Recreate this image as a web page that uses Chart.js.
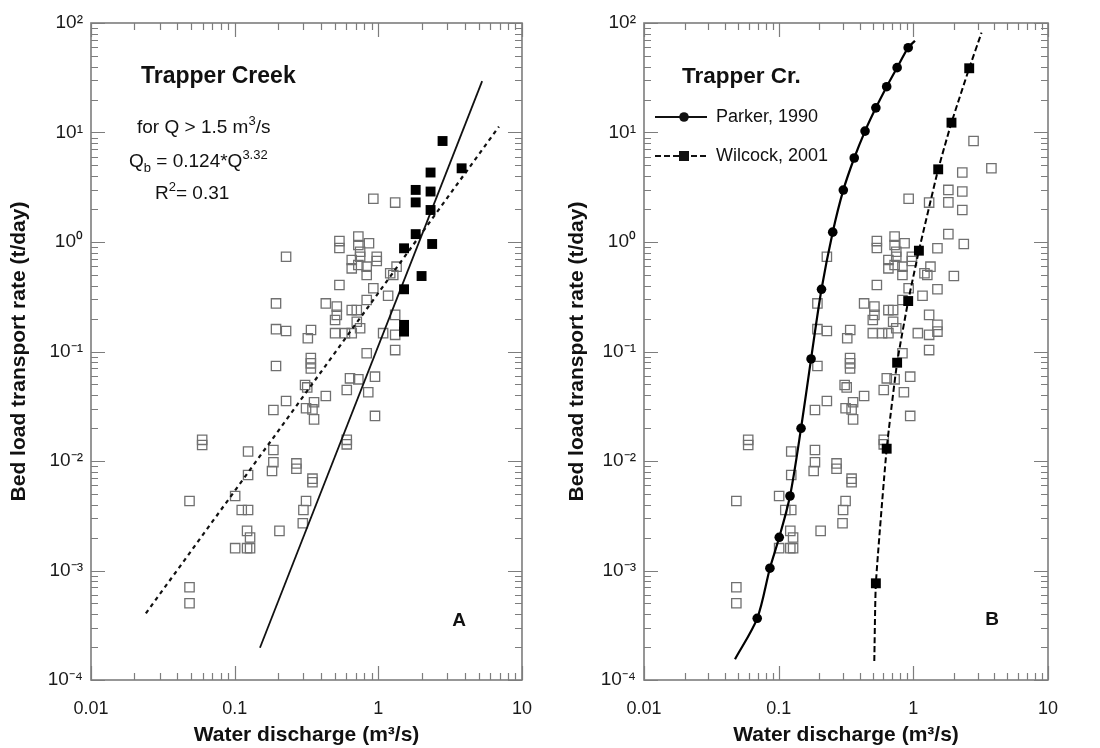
<!DOCTYPE html>
<html>
<head>
<meta charset="utf-8">
<script src="https://cdn.jsdelivr.net/npm/chart.js@4.4.1/dist/chart.umd.min.js"></script>
<style>
  html, body { margin: 0; padding: 0; background: #ffffff; }
  #wrap { position: relative; width: 1100px; height: 748px; }
  canvas { position: absolute; top: 0; }
  #cA { left: 0; }
  #cB { left: 550px; }
</style>
</head>
<body>
<div id="wrap">
  <canvas id="cA" width="550" height="748"></canvas>
  <canvas id="cB" width="550" height="748"></canvas>
</div>
<script>
// ---------------- DATA ----------------
// Measured bed load samples, Q < 1.5 m3/s (open squares)
const obsQ = [0.228, 0.194, 0.431, 0.194, 0.228, 0.340, 0.323, 0.194, 0.339, 0.339, 0.339,
  0.536, 0.536, 0.726, 0.726, 0.861, 0.747, 0.747, 0.975, 0.975, 0.653, 0.653, 0.726, 0.830, 0.830,
  1.21, 1.27, 1.34, 0.536, 0.923, 1.17, 0.830, 0.514, 0.514, 0.500, 0.653, 0.708, 0.708, 0.500,
  0.586, 0.653, 0.747, 1.08, 1.31, 1.31, 1.31, 0.830, 0.635, 0.726, 0.948, 0.923, 1.31,
  0.309, 0.320, 0.228, 0.186, 0.431, 0.357, 0.314, 0.348, 0.357, 0.0594, 0.0594, 0.124, 0.186,
  0.186, 0.182, 0.269, 0.269, 0.124, 0.348, 0.348, 0.0485, 0.1008, 0.112, 0.124, 0.314, 0.301,
  0.298, 0.122, 0.205, 0.128, 0.1008, 0.122, 0.128, 0.0485, 0.0485, 0.603, 0.851, 0.948, 0.603, 0.603];
const obsQb = [0.734, 0.275, 0.275, 0.160, 0.154, 0.157, 0.132, 0.0738, 0.087, 0.078, 0.070,
  1.02, 0.882, 1.12, 0.939, 0.973, 0.815, 0.734, 0.734, 0.670, 0.685, 0.575, 0.616, 0.595, 0.500,
  0.518, 0.500, 0.595, 0.405, 0.378, 0.323, 0.295, 0.257, 0.216, 0.194, 0.239, 0.239, 0.187, 0.147,
  0.147, 0.147, 0.163, 0.147, 0.216, 0.142, 0.103, 0.0963, 0.0569, 0.0557, 0.0589, 2.48, 2.29,
  0.0494, 0.0470, 0.0353, 0.0292, 0.0392, 0.0344, 0.0303, 0.0296, 0.0240, 0.0156, 0.0140, 0.0122, 0.0126,
  0.00973, 0.00811, 0.0095, 0.0085, 0.00745, 0.0069, 0.0064, 0.00431, 0.00479, 0.00357, 0.00357, 0.00431, 0.00357,
  0.00270, 0.00230, 0.00230, 0.00200, 0.00160, 0.00160, 0.00160, 0.000703, 0.000502, 0.0445, 0.0424, 0.0258, 0.0156, 0.0142];

// Samples with Q > 1.5 m3/s (filled squares in panel A)
const highQ  = [2.80, 3.80, 2.31, 1.82, 2.31, 1.82, 2.31, 1.82, 2.37, 1.51, 2.00, 1.51, 1.51, 1.51];
const highQb = [8.36, 4.71, 4.31, 2.99, 2.89, 2.30, 1.96, 1.18, 0.959, 0.876, 0.489, 0.370, 0.175, 0.152];

// Fitted power law for Q > 1.5 (solid) and fit to all data (dashed), end points
const powerFitQ  = [0.150, 5.28];
const powerFitQb = [0.000197, 29.5];
const allFitQ  = [0.0241, 6.91];
const allFitQb = [0.000406, 11.3];

// Panel B model curves (end points have no marker)
const parkerQ  = [0.0474, 0.0693, 0.0861, 0.101, 0.1214, 0.1466, 0.174, 0.208, 0.252, 0.302, 0.364, 0.438, 0.527, 0.634, 0.758, 0.916, 1.028];
const parkerQb = [0.000155, 0.000366, 0.00105, 0.00201, 0.00479, 0.0199, 0.0855, 0.370, 1.23, 2.98, 5.85, 10.3, 16.8, 26.2, 39.1, 59.5, 68.9];
const wilcockQ  = [0.513, 0.527, 0.634, 0.758, 0.916, 1.10, 1.53, 1.92, 2.60, 3.21];
const wilcockQb = [0.000149, 0.000764, 0.01295, 0.0790, 0.289, 0.833, 4.61, 12.3, 38.6, 81.6];

// Axis ticks
const xMajor = [0.01, 0.1, 1, 10];
const xTickLabels = ['0.01', '0.1', '1', '10'];
const yMajor = [0.0001, 0.001, 0.01, 0.1, 1, 10, 100];
const yTickLabels = ['10\u207B\u2074', '10\u207B\u00B3', '10\u207B\u00B2', '10\u207B\u00B9', '10\u2070', '10\u00B9', '10\u00B2'];

// ---------------- HELPERS ----------------
const FONT = "'Liberation Sans', Arial, Helvetica, sans-serif";
const pts = (xs, ys) => xs.map((v, i) => ({ x: v, y: ys[i] }));

function logTickValues(majors) {
  const out = [];
  for (let i = 0; i < majors.length - 1; i++) {
    for (let k = 1; k <= 9; k++) out.push(k === 1 ? majors[i] : +(k * majors[i]).toPrecision(6));
  }
  out.push(majors[majors.length - 1]);
  return out;
}

function richText(ctx, x, y, parts, size, weight) {
  let cx = x;
  parts.forEach(p => {
    const mode = p[1] || 0;
    const fs = mode === 0 ? size : Math.round(size * 0.7);
    const dy = mode === 1 ? -size * 0.42 : (mode === -1 ? size * 0.28 : 0);
    ctx.font = `${weight || 'normal'} ${fs}px ${FONT}`;
    ctx.fillText(p[0], cx, y + dy);
    cx += ctx.measureText(p[0]).width;
  });
}

const frameTicks = {
  id: 'frameTicks',
  afterDatasetsDraw(chart) {
    const { ctx, chartArea: a, scales: { x, y } } = chart;
    ctx.save();
    ctx.strokeStyle = '#7d7d7d';
    ctx.lineWidth = 1.2;
    ctx.beginPath();
    x.ticks.forEach(t => {
      const px = Math.round(x.getPixelForValue(t.value)) + 0.5;
      const len = t.major ? 14 : 7;
      ctx.moveTo(px, a.bottom); ctx.lineTo(px, a.bottom - len);
      ctx.moveTo(px, a.top); ctx.lineTo(px, a.top + len);
    });
    y.ticks.forEach(t => {
      const py = Math.round(y.getPixelForValue(t.value)) + 0.5;
      const len = t.major ? 14 : 7;
      ctx.moveTo(a.left, py); ctx.lineTo(a.left + len, py);
      ctx.moveTo(a.right, py); ctx.lineTo(a.right - len, py);
    });
    ctx.stroke();
    ctx.lineWidth = 1.6;
    ctx.strokeRect(a.left, a.top, a.right - a.left, a.bottom - a.top);
    ctx.restore();
  }
};

function makeScales(yWidth, yTitlePad) {
  return {
    x: {
      type: 'logarithmic', position: 'bottom', min: 0.01, max: 10,
      afterBuildTicks: s => { s.ticks = logTickValues(xMajor).map(v => ({ value: v, major: xMajor.includes(v) })); },
      afterFit: s => { s.height = 68; },
      grid: { display: false, drawTicks: false },
      border: { display: false },
      ticks: {
        autoSkip: false, maxRotation: 0, padding: 18, color: '#1a1a1a',
        font: { family: FONT, size: 18 },
        callback: v => { const i = xMajor.indexOf(v); return i >= 0 ? xTickLabels[i] : ''; }
      },
      title: {
        display: true, text: 'Water discharge (m³/s)', color: '#111',
        font: { family: FONT, size: 21, weight: 'bold' }, padding: { top: 0, bottom: 0 }
      }
    },
    y: {
      type: 'logarithmic', position: 'left', min: 0.0001, max: 100,
      afterBuildTicks: s => { s.ticks = logTickValues(yMajor).map(v => ({ value: v, major: yMajor.includes(v) })); },
      afterFit: s => { s.width = yWidth; },
      grid: { display: false, drawTicks: false },
      border: { display: false },
      ticks: {
        autoSkip: false, padding: 8, color: '#1a1a1a',
        font: { family: FONT, size: 19 },
        callback: v => { const i = yMajor.indexOf(v); return i >= 0 ? yTickLabels[i] : ''; }
      },
      title: {
        display: true, text: 'Bed load transport rate (t/day)', color: '#111',
        font: { family: FONT, size: 21, weight: 'bold' }, padding: { top: yTitlePad, bottom: 0 }
      }
    }
  };
}

const openSquareStyle = {
  pointStyle: 'rect', pointRadius: 6.6, pointBackgroundColor: 'rgba(255,255,255,0)',
  pointBorderColor: '#707070', pointBorderWidth: 1.3, showLine: false
};

// ---------------- PANEL A ----------------
const annotA = {
  id: 'annotA',
  afterDraw(chart) {
    const ctx = chart.ctx;
    ctx.save();
    ctx.fillStyle = '#111';
    ctx.textBaseline = 'alphabetic';
    ctx.textAlign = 'left';
    richText(ctx, 141, 83, [['Trapper Creek']], 23, 'bold');
    richText(ctx, 137, 133, [['for Q > 1.5 m'], ['3', 1], ['/s']], 19);
    richText(ctx, 129, 167, [['Q'], ['b', -1], [' = 0.124*Q'], ['3.32', 1]], 19);
    richText(ctx, 155, 199, [['R'], ['2', 1], ['= 0.31']], 19);
    ctx.textAlign = 'center';
    ctx.textBaseline = 'middle';
    ctx.font = `bold 19px ${FONT}`;
    ctx.fillText('A', 459, 621);
    ctx.restore();
  }
};

new Chart(document.getElementById('cA'), {
  type: 'scatter',
  data: {
    datasets: [
      Object.assign({ label: 'Q > 1.5 m3/s', data: pts(highQ, highQb) }, {
        pointStyle: 'rect', pointRadius: 7, pointBackgroundColor: '#000', pointBorderColor: '#000',
        pointBorderWidth: 0, showLine: false
      }),
      { label: 'Qb = 0.124*Q^3.32', data: pts(powerFitQ, powerFitQb), showLine: true, pointRadius: 0,
        borderColor: '#111', borderWidth: 1.8 },
      { label: 'All data fit', data: pts(allFitQ, allFitQb), showLine: true, pointRadius: 0,
        borderColor: '#111', borderWidth: 2.2, borderDash: [4, 4] },
      Object.assign({ label: 'Measured', data: pts(obsQ, obsQb) }, openSquareStyle)
    ]
  },
  options: {
    responsive: false, animation: false, devicePixelRatio: 1,
    layout: { padding: { left: 0, top: 23, right: 28, bottom: 0 } },
    plugins: { legend: { display: false }, tooltip: { enabled: false } },
    scales: makeScales(91, 7)
  },
  plugins: [frameTicks, annotA]
});

// ---------------- PANEL B ----------------
const annotB = {
  id: 'annotB',
  afterDraw(chart) {
    const ctx = chart.ctx;
    ctx.save();
    ctx.fillStyle = '#111';
    ctx.strokeStyle = '#111';
    ctx.textAlign = 'left';
    ctx.textBaseline = 'alphabetic';
    richText(ctx, 132, 83, [['Trapper Cr.']], 22.5, 'bold');
    // legend
    ctx.lineWidth = 2.2;
    ctx.beginPath(); ctx.moveTo(105, 117); ctx.lineTo(157, 117); ctx.stroke();
    ctx.beginPath(); ctx.arc(134, 117, 4.8, 0, Math.PI * 2); ctx.fill();
    ctx.setLineDash([6, 3]);
    ctx.beginPath(); ctx.moveTo(105, 156); ctx.lineTo(157, 156); ctx.stroke();
    ctx.setLineDash([]);
    ctx.fillRect(129, 151, 10, 10);
    ctx.textBaseline = 'middle';
    ctx.font = `18px ${FONT}`;
    ctx.fillText('Parker, 1990', 166, 117);
    ctx.fillText('Wilcock, 2001', 166, 156);
    ctx.textAlign = 'center';
    ctx.font = `bold 19px ${FONT}`;
    ctx.fillText('B', 442, 620);
    ctx.restore();
  }
};

const markerRadii = (n) => Array.from({ length: n }, (_, i) => (i === 0 || i === n - 1) ? 0 : 1);

new Chart(document.getElementById('cB'), {
  type: 'scatter',
  data: {
    datasets: [
      { label: 'Parker, 1990', data: pts(parkerQ, parkerQb), showLine: true,
        borderColor: '#000', borderWidth: 2.2, tension: 0.3,
        pointStyle: 'circle', pointRadius: markerRadii(parkerQ.length).map(v => v * 4.8),
        pointBackgroundColor: '#000', pointBorderColor: '#000', pointBorderWidth: 0 },
      { label: 'Wilcock, 2001', data: pts(wilcockQ, wilcockQb), showLine: true,
        borderColor: '#000', borderWidth: 2, borderDash: [6, 3], tension: 0.15,
        pointStyle: 'rect', pointRadius: markerRadii(wilcockQ.length).map(v => v * 7),
        pointBackgroundColor: '#000', pointBorderColor: '#000', pointBorderWidth: 0 },
      Object.assign({ label: 'Measured', data: pts(obsQ.concat(highQ), obsQb.concat(highQb)) }, openSquareStyle)
    ]
  },
  options: {
    responsive: false, animation: false, devicePixelRatio: 1,
    layout: { padding: { left: 0, top: 23, right: 52, bottom: 0 } },
    plugins: { legend: { display: false }, tooltip: { enabled: false } },
    scales: makeScales(94, 15)
  },
  plugins: [frameTicks, annotB]
});
</script>
</body>
</html>
